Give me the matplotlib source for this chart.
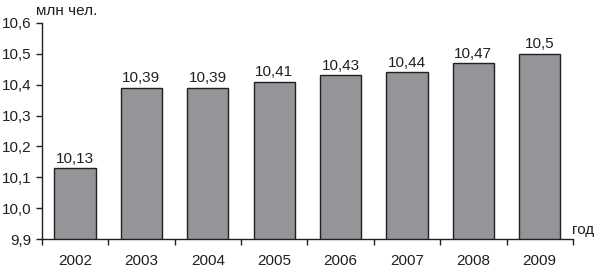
import matplotlib.pyplot as plt
from matplotlib.ticker import FuncFormatter, FixedLocator

years = ['2002', '2003', '2004', '2005', '2006', '2007', '2008', '2009']
values = [10.13, 10.39, 10.39, 10.41, 10.43, 10.44, 10.47, 10.5]
labels = ['10,13', '10,39', '10,39', '10,41', '10,43', '10,44', '10,47', '10,5']

plt.rcParams['font.family'] = ['Liberation Sans', 'DejaVu Sans']
fs = 11

fig = plt.figure(figsize=(5.98, 2.73), dpi=100)
ax = fig.add_axes([0.070, 0.1245, 0.888, 0.7915])

x = list(range(len(years)))
ax.bar(x, values, width=0.62, color='#939598', edgecolor='#231f20', linewidth=1.0)
for i, val in enumerate(values):
    ax.text(i, val + 0.008, labels[i], ha='center', va='bottom', fontsize=fs, color='#231f20')

ax.set_xlim(-0.5, len(years) - 0.5)
ax.set_ylim(9.9, 10.6)
ax.set_yticks([9.9, 10.0, 10.1, 10.2, 10.3, 10.4, 10.5, 10.6])
ax.yaxis.set_major_formatter(FuncFormatter(lambda v, p: f"{v:.1f}".replace('.', ',')))
ax.set_xticks(x)
ax.set_xticklabels(years)
ax.xaxis.set_minor_locator(FixedLocator([i + 0.5 for i in range(-1, len(years))]))

ax.tick_params(axis='x', which='major', length=0, pad=11, labelsize=fs, colors='#231f20')
ax.tick_params(axis='x', which='minor', length=4.5, width=1.0, color='#231f20')
ax.tick_params(axis='y', length=4.5, width=1.0, labelsize=fs, colors='#231f20', pad=3)

for s in ['top', 'right']:
    ax.spines[s].set_visible(False)
for s in ['left', 'bottom']:
    ax.spines[s].set_linewidth(1.0)
    ax.spines[s].set_color('#231f20')

fig.text(0.060, 0.960, 'млн чел.', fontsize=fs, color='#231f20', va='center', ha='left')
fig.text(0.957, 0.158, 'год', fontsize=fs, color='#231f20', va='center', ha='left')

fig.savefig('out.png', dpi=100)
